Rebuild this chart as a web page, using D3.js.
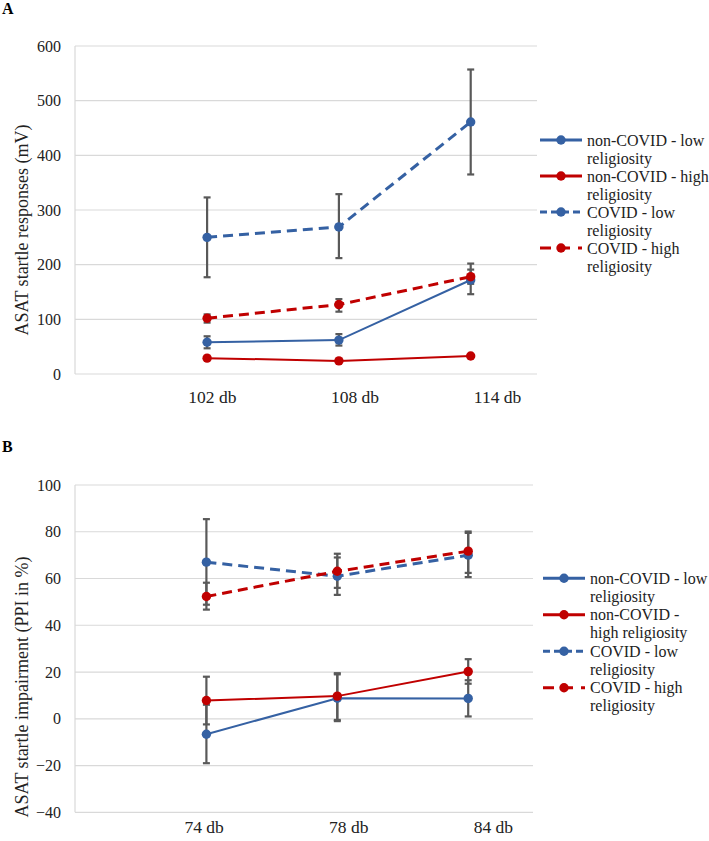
<!DOCTYPE html>
<html>
<head>
<meta charset="utf-8">
<script src="https://cdn.jsdelivr.net/npm/d3@7"></script>
<style>
  body { margin: 0; background: #fff; }
  svg { display: block; font-family: "Liberation Serif", "Times New Roman", serif; }
</style>
</head>
<body>
<div id="chart"></div>
<script>
// ---- data ----
const dbA = ["102 db", "108 db", "114 db"];
const dbB = ["74 db", "78 db", "84 db"];

// panel A: ASAT startle responses (mV)
const nonCovidLowA = [58, 62, 172];
const nonCovidLowA_lo = [47, 52, 146];
const nonCovidLowA_hi = [69, 73, 202];
const nonCovidHighA = [29, 24, 33];
const covidLowA = [250, 269, 461];
const covidLowA_lo = [177, 212, 365];
const covidLowA_hi = [323, 329, 557];
const covidHighA = [102, 127, 178];
const covidHighA_lo = [94, 114, 165];
const covidHighA_hi = [109, 137, 191];

// panel B: ASAT startle impairment (PPI in %)
const nonCovidLowB = [-6.6, 8.8, 8.7];
const nonCovidLowB_lo = [-19, -1, 1];
const nonCovidLowB_hi = [6, 19, 16.5];
const nonCovidHighB = [7.8, 9.7, 20.2];
const nonCovidHighB_lo = [-2.4, -0.5, 15];
const nonCovidHighB_hi = [18, 19.5, 25.5];
const covidLowB = [67, 61, 70];
const covidLowB_lo = [48.8, 53, 60.6];
const covidLowB_hi = [85.4, 69, 79.5];
const covidHighB = [52.3, 63.1, 71.7];
const covidHighB_lo = [46.7, 56, 62.4];
const covidHighB_hi = [58.2, 70.6, 80.1];

const ticksA = [0, 100, 200, 300, 400, 500, 600];
const ticksB = [-40, -20, 0, 20, 40, 60, 80, 100];

const legendA = [["non-COVID - low", "religiosity"], ["non-COVID - high", "religiosity"],
                 ["COVID - low", "religiosity"], ["COVID - high", "religiosity"]];
const legendB = [["non-COVID - low", "religiosity"], ["non-COVID -", "high religiosity"],
                 ["COVID - low", "religiosity"], ["COVID - high", "religiosity"]];

const blue = "#3561a3", red = "#c00000", errGray = "#595959";

const svg = d3.select("#chart").append("svg")
  .attr("width", 709).attr("height", 841);

function drawPanel(p) {
  const g = svg.append("g");

  const y = d3.scaleLinear().domain(p.domain).range([p.bottom, p.top]);
  const x = d3.scalePoint().domain(p.cats).range(p.ptRange);
  const xLab = d3.scalePoint().domain(p.cats).range(p.labRange);

  // panel letter
  g.append("text").attr("x", 2).attr("y", p.letterY)
    .attr("font-weight", "bold").attr("font-size", 16).text(p.letter);

  // gridlines
  g.selectAll(".grid").data(p.ticks).join("line")
    .attr("x1", p.left).attr("x2", p.right)
    .attr("y1", d => y(d)).attr("y2", d => y(d))
    .attr("stroke", "#d9d9d9").attr("stroke-width", 1.2);
  g.append("line").attr("x1", p.left).attr("x2", p.left)
    .attr("y1", p.top).attr("y2", p.bottom)
    .attr("stroke", "#d9d9d9").attr("stroke-width", 1.2);

  // y axis tick labels
  g.append("g").attr("transform", `translate(${p.left - 14},0)`)
    .call(d3.axisLeft(y).tickValues(p.ticks).tickSize(0).tickPadding(0))
    .call(a => a.select(".domain").remove())
    .selectAll("text").attr("font-family", "Liberation Serif").attr("font-size", 16)
    .attr("fill", "#222");

  // x labels
  g.append("g").attr("transform", `translate(0,${p.labY})`)
    .call(d3.axisBottom(xLab).tickSize(0).tickPadding(0))
    .call(a => a.select(".domain").remove())
    .selectAll("text").attr("font-family", "Liberation Serif").attr("font-size", 17.5)
    .attr("fill", "#222");

  // y title
  g.append("text")
    .attr("transform", `translate(${p.titleX},${p.titleY}) rotate(-90)`)
    .attr("text-anchor", "middle").attr("font-size", 18).attr("fill", "#222")
    .text(p.title);

  // error bars
  p.series.forEach(s => {
    if (!s.lo) return;
    const eb = g.append("g").attr("stroke", errGray).attr("stroke-width", 2.2);
    s.vals.forEach((v, i) => {
      const cx = x(p.cats[i]);
      eb.append("line").attr("x1", cx).attr("x2", cx)
        .attr("y1", y(s.lo[i])).attr("y2", y(s.hi[i]));
      [s.lo[i], s.hi[i]].forEach(e => {
        eb.append("line").attr("x1", cx - 3.5).attr("x2", cx + 3.5)
          .attr("y1", y(e)).attr("y2", y(e));
      });
    });
  });

  // lines + markers
  const line = d3.line().x((d, i) => x(p.cats[i])).y(d => y(d));
  p.series.forEach(s => {
    g.append("path").datum(s.vals)
      .attr("d", line).attr("fill", "none")
      .attr("stroke", s.color).attr("stroke-width", s.dash ? 3 : 2)
      .attr("stroke-dasharray", s.dash ? "10,6" : null);
    g.selectAll(null).data(s.vals).join("circle")
      .attr("cx", (d, i) => x(p.cats[i])).attr("cy", d => y(d))
      .attr("r", 4.7).attr("fill", s.color);
  });

  // legend
  const leg = g.append("g");
  p.series.forEach((s, i) => {
    const ly = p.legY + i * p.legStep;
    leg.append("line").attr("x1", p.legX).attr("x2", p.legX + 42)
      .attr("y1", ly).attr("y2", ly)
      .attr("stroke", s.color).attr("stroke-width", 3)
      .attr("stroke-dasharray", s.dash ? (s.color === blue ? "7,4" : "11,8") : null);
    leg.append("circle").attr("cx", p.legX + 21).attr("cy", ly).attr("r", 4.7)
      .attr("fill", s.color);
    const t = leg.append("text").attr("x", p.legX + 47).attr("y", ly + 5.5)
      .attr("font-size", 16).attr("fill", "#222");
    p.legend[i].forEach((ln, j) => {
      t.append("tspan").attr("x", p.legX + 47).attr("dy", j ? 18 : 0).text(ln);
    });
  });
}

drawPanel({
  letter: "A", letterY: 14,
  cats: dbA, domain: [0, 600], ticks: ticksA,
  top: 46, bottom: 374, left: 75, right: 537,
  ptRange: [207.1, 470.7], labRange: [211.9, 497.1], labY: 391,
  title: "ASAT startle responses (mV)", titleX: 28, titleY: 230,
  legX: 540, legY: 140, legStep: 36, legend: legendA,
  series: [
    {vals: nonCovidLowA, lo: nonCovidLowA_lo, hi: nonCovidLowA_hi, color: blue, dash: false},
    {vals: nonCovidHighA, lo: null, hi: null, color: red, dash: false},
    {vals: covidLowA, lo: covidLowA_lo, hi: covidLowA_hi, color: blue, dash: true},
    {vals: covidHighA, lo: covidHighA_lo, hi: covidHighA_hi, color: red, dash: true}
  ]
});

drawPanel({
  letter: "B", letterY: 452,
  cats: dbB, domain: [-40, 100], ticks: ticksB,
  top: 485, bottom: 812.3, left: 75, right: 533,
  ptRange: [206.4, 468.2], labRange: [203.6, 492.9], labY: 821,
  title: "ASAT startle impairment (PPI in %)", titleX: 28, titleY: 687,
  legX: 543, legY: 578.3, legStep: 36.5, legend: legendB,
  series: [
    {vals: nonCovidLowB, lo: nonCovidLowB_lo, hi: nonCovidLowB_hi, color: blue, dash: false},
    {vals: nonCovidHighB, lo: nonCovidHighB_lo, hi: nonCovidHighB_hi, color: red, dash: false},
    {vals: covidLowB, lo: covidLowB_lo, hi: covidLowB_hi, color: blue, dash: true},
    {vals: covidHighB, lo: covidHighB_lo, hi: covidHighB_hi, color: red, dash: true}
  ]
});
</script>
</body>
</html>
